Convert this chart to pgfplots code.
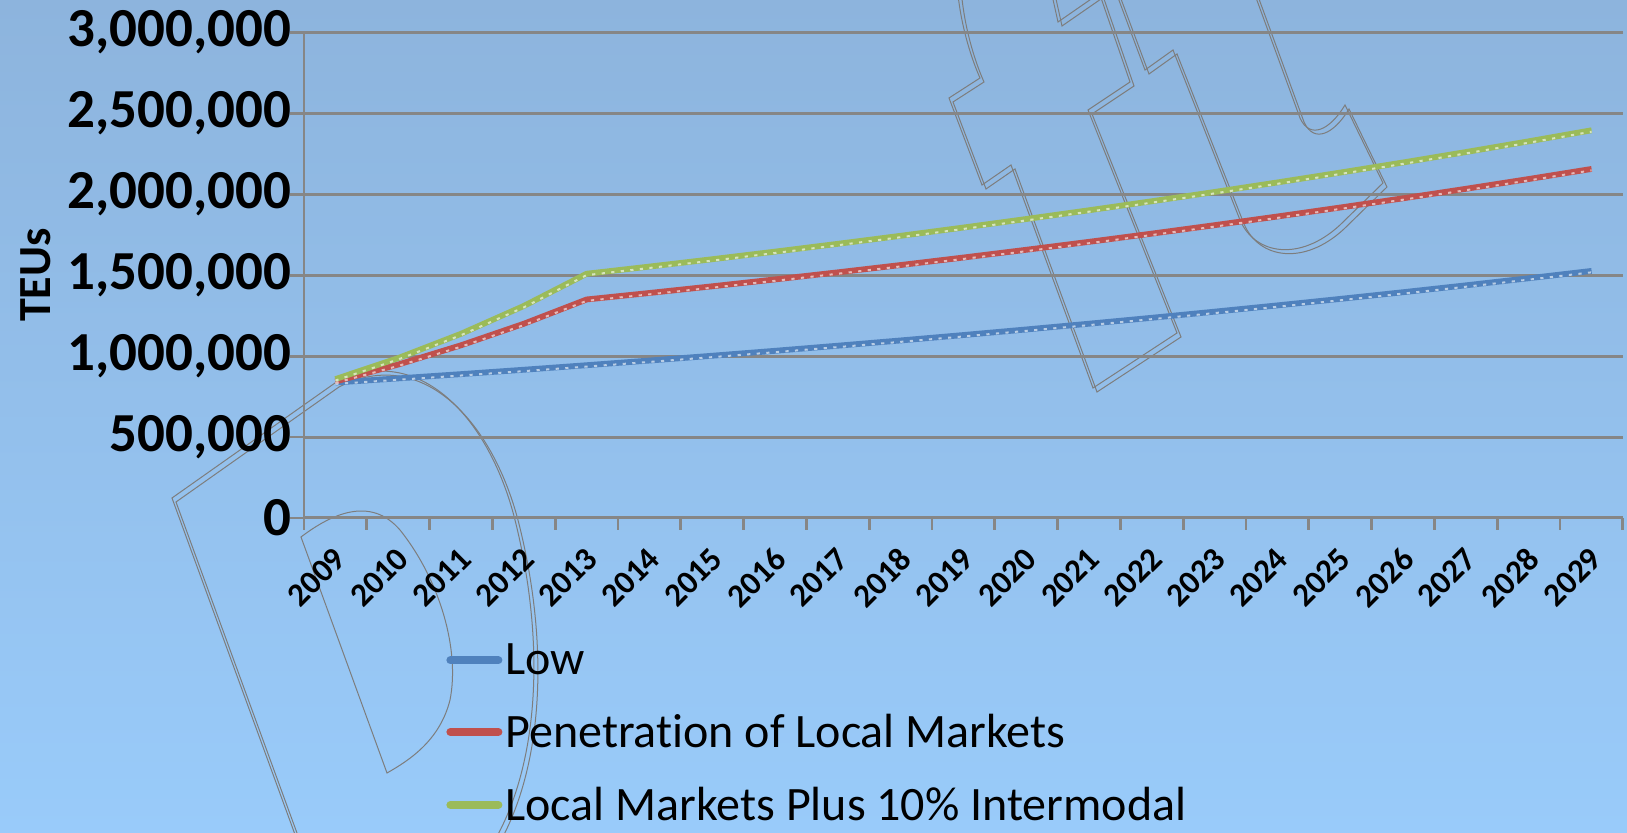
\documentclass[border=0pt]{standalone}
\usepackage{pgfplots}
\pgfplotsset{compat=1.18}
\usepackage{pgfplotstable}
\usepackage{fontspec}
\setmainfont{Carlito}[Ligatures=NoCommon]

\definecolor{bgtop}{RGB}{141,180,221}
\definecolor{bgbottom}{RGB}{153,203,250}
\definecolor{gridgray}{RGB}{134,134,134}
\definecolor{wmgray}{RGB}{125,125,125}
\definecolor{lowblue}{RGB}{79,129,189}
\definecolor{penred}{RGB}{192,80,77}
\definecolor{locgreen}{RGB}{155,187,89}

% TEU forecasts, 2009-2029
\pgfplotstableread{
year low pen loc
2009 837000 843000 858000
2010 862500 948000 988000
2011 888800 1067000 1138000
2012 915900 1200000 1310000
2013 943900 1350000 1509000
2014 972700 1390100 1553200
2015 1002400 1431400 1598700
2016 1032900 1473900 1645600
2017 1064400 1517700 1693800
2018 1096900 1562800 1743400
2019 1130300 1609200 1794500
2020 1164800 1657000 1847100
2021 1200300 1706200 1901200
2022 1236900 1756900 1956900
2023 1274700 1809100 2014200
2024 1313500 1862800 2073200
2025 1353600 1918100 2134000
2026 1394900 1975100 2196500
2027 1437400 2033800 2260900
2028 1481200 2094200 2327100
2029 1526400 2156400 2395300
}\teus

\begin{document}
\begin{tikzpicture}
% background
\shade[top color=bgtop, bottom color=bgbottom] (-152pt,-157.5pt) rectangle (661.5pt,259pt);

% faint outline artwork behind the chart
\begin{scope}[shift={(-152pt,259pt)}, x=0.5pt, y=-0.5pt, draw=wmgray, line width=0.5pt]
  \foreach \d in {0,4}{
    \begin{scope}[shift={(\d,\d)}]
      % large D outline
      \draw (297,840) -- (172,498) -- (335,383)
        .. controls (420,340) and (490,420) .. (515,520)
        .. controls (545,640) and (540,760) .. (495,840);
      % stepped band
      \draw (958,-5) .. controls (962,30) and (972,60) .. (980,78) -- (949,98) -- (982,185)
        -- (1011,165) -- (1093,388) -- (1177,333) -- (1088,110) -- (1130,82) -- (1100,-5);
      \draw (1052,-5) -- (1058,22) -- (1097,-5);
      % hook
      \draw (1117,-5) -- (1145,70) -- (1173,50) -- (1240,220)
        .. controls (1255,255) and (1300,262) .. (1340,225) -- (1383,183) -- (1345,105)
        .. controls (1330,130) and (1310,140) .. (1300,118) -- (1255,-5);
    \end{scope}
  }
  % small D outline
  \draw (301,537) .. controls (330,515) and (370,495) .. (400,530)
    .. controls (440,580) and (460,650) .. (450,700)
    .. controls (440,740) and (410,760) .. (387,773) -- cycle;
\end{scope}

\begin{axis}[
  at={(0,0)}, anchor=south west,
  scale only axis,
  width=659.5pt, height=242.8pt,
  xmin=2008.5, xmax=2029.5,
  ymin=0, ymax=3000000,
  scaled y ticks=false,
  xtick={2009,...,2029},
  minor xtick={2008.5,2009.5,...,2029.5},
  ytick={0,500000,...,3000000},
  yticklabels={0,{500,000},{1,000,000},{1,500,000},{2,000,000},{2,500,000},{3,000,000}},
  xticklabel={\pgfmathprintnumber[1000 sep={},assume math mode=true]{\tick}},
  axis x line*=bottom, axis y line*=left,
  axis line style={color=gridgray, line width=1.4pt, -},
  tick align=outside,
  major tick length=7pt, minor tick length=6pt,
  major x tick style={draw=none},
  minor x tick style={color=gridgray, line width=1.4pt},
  major y tick style={color=gridgray, line width=1.4pt},
  ymajorgrids,
  major grid style={color=gridgray, line width=1.5pt},
  yticklabel style={font=\bfseries\fontsize{27.5}{31}\selectfont, xshift=4pt},
  xticklabel style={font=\bfseries\fontsize{16.5}{19}\selectfont, inner sep=0.5pt, xshift=-1.5pt, yshift=-6pt, rotate=45, anchor=north east},
  ylabel={TEUs},
  ylabel style={at={(axis description cs:-0.2032,0.5)}, anchor=center, font=\bfseries\fontsize{23}{27}\selectfont},
  legend style={at={(axis description cs:0,0)}, anchor=north west, xshift=71pt, yshift=-61pt,
    draw=none, fill=none, inner sep=0pt, row sep=15.3pt,
    font=\fontsize{24}{28}\selectfont,
    nodes={inner sep=1.5pt}},
  legend cell align=left,
  legend image code/.code={\draw[line width=4pt, line cap=round] (1.5pt,0pt) -- (25.5pt,0pt);},
  line join=round,
]
\addplot[lowblue, line width=2.9pt] table[x=year, y=low] {\teus};
\addlegendentry{Low}
\addplot[penred, line width=2.9pt] table[x=year, y=pen] {\teus};
\addlegendentry{Penetration of Local Markets}
\addplot[locgreen, line width=2.9pt] table[x=year, y=loc] {\teus};
\addlegendentry{Local Markets Plus 10\% Intermodal}
% lighter dotted sheen along the lower edge of each line
\addplot[forget plot, lowblue!40!white, line width=1pt, dash pattern=on 1.6pt off 3.2pt, yshift=-0.7pt] table[x=year, y=low] {\teus};
\addplot[forget plot, penred!40!white, line width=1pt, dash pattern=on 1.6pt off 3.2pt, yshift=-0.7pt] table[x=year, y=pen] {\teus};
\addplot[forget plot, locgreen!40!white, line width=1pt, dash pattern=on 1.6pt off 3.2pt, yshift=-0.7pt] table[x=year, y=loc] {\teus};
\end{axis}

\pgfresetboundingbox
\useasboundingbox (-152pt,-157.5pt) rectangle (661.5pt,259pt);
\end{tikzpicture}
\end{document}
